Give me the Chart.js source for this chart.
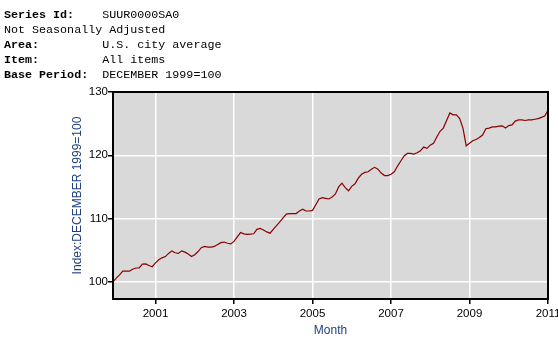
<!DOCTYPE html>
<html>
<head>
<meta charset="utf-8">
<title>SUUR0000SA0</title>
<script src="https://cdn.jsdelivr.net/npm/chart.js@4.4.0/dist/chart.umd.min.js"></script>
<style>
  html, body { margin: 0; padding: 0; background: #fff; }
  #wrap { position: relative; width: 558px; height: 338px; overflow: hidden; }
  #chart { position: absolute; left: 0; top: 0; }
  #info {
    position: absolute; left: 4px; top: 8px; margin: 0;
    font-family: "Courier New", "Liberation Mono", monospace;
    font-size: 11.7px; line-height: 15px; color: #000;
  }
</style>
</head>
<body>
<div id="wrap">
<canvas id="chart" width="558" height="338"></canvas>
<pre id="info"><b>Series Id:</b>    SUUR0000SA0
Not Seasonally Adjusted
<b>Area:</b>         U.S. city average
<b>Item:</b>         All items
<b>Base Period:</b>  DECEMBER 1999=100</pre>
</div>
<script>
// Monthly index values (Dec 1999 = 100)
const dec1999 = [100.0];
const y2000 = [100.6, 101.1, 101.7, 101.7, 101.7, 102.0, 102.2, 102.2, 102.8, 102.85, 102.6, 102.4];
const y2001 = [103.0, 103.5, 103.8, 104.0, 104.5, 104.9, 104.6, 104.5, 104.9, 104.7, 104.4, 104.0];
const y2002 = [104.3, 104.8, 105.4, 105.6, 105.5, 105.5, 105.6, 105.9, 106.2, 106.3, 106.1, 106.0];
const y2003 = [106.4, 107.1, 107.8, 107.6, 107.5, 107.55, 107.6, 108.3, 108.45, 108.2, 107.9, 107.7];
const y2004 = [108.3, 108.9, 109.5, 110.1, 110.7, 110.8, 110.8, 110.8, 111.2, 111.5, 111.2, 111.2];
const y2005 = [111.3, 112.2, 113.1, 113.3, 113.2, 113.1, 113.4, 113.9, 115.0, 115.6, 114.9, 114.4];
const y2006 = [115.1, 115.5, 116.4, 117.0, 117.3, 117.4, 117.8, 118.1, 117.8, 117.2, 116.8, 116.8];
const y2007 = [117.0, 117.4, 118.3, 119.1, 119.9, 120.3, 120.3, 120.2, 120.4, 120.7, 121.3, 121.1];
const y2008 = [121.6, 121.9, 122.9, 123.8, 124.3, 125.5, 126.7, 126.4, 126.4, 125.8, 124.3, 121.5];
const y2009 = [121.9, 122.3, 122.5, 122.8, 123.2, 124.2, 124.3, 124.5, 124.5, 124.6, 124.65, 124.3];
const y2010 = [124.7, 124.8, 125.4, 125.6, 125.6, 125.5, 125.6, 125.6, 125.7, 125.8, 126.0, 126.2];
const jan2011 = [127.1];

const monthNames = ['Jan', 'Feb', 'Mar', 'Apr', 'May', 'Jun', 'Jul', 'Aug', 'Sep', 'Oct', 'Nov', 'Dec'];
const xTickYears = ['2001', '2003', '2005', '2007', '2009', '2011'];
const yTickValues = [100, 110, 120, 130];

const cpiValues = [].concat(dec1999, y2000, y2001, y2002, y2003, y2004,
  y2005, y2006, y2007, y2008, y2009, y2010, jan2011);

// Month labels start at Dec 1999
const monthLabels = cpiValues.map((v, i) => {
  const m = 11 + i;
  return monthNames[m % 12] + ' ' + (1999 + Math.floor(m / 12));
});

const titleBlue = '#1f3f7f';

// Gray plot background and black frame around the plot
const plotFrame = {
  id: 'plotFrame',
  beforeDraw(chart) {
    const { ctx, chartArea: a } = chart;
    ctx.save();
    ctx.fillStyle = '#d9d9d9';
    ctx.fillRect(a.left, a.top, a.right - a.left, a.bottom - a.top);
    ctx.restore();
  },
  afterDraw(chart) {
    const { ctx, chartArea: a } = chart;
    ctx.save();
    ctx.strokeStyle = '#000';
    ctx.lineWidth = 2;
    ctx.strokeRect(a.left, a.top, a.right - a.left, a.bottom - a.top);
    ctx.restore();
  }
};

Chart.defaults.font.family = '"Liberation Sans", Arial, sans-serif';
Chart.defaults.font.size = 12;
Chart.defaults.color = '#000';

new Chart(document.getElementById('chart').getContext('2d'), {
  type: 'line',
  data: {
    labels: monthLabels,
    datasets: [{
      label: 'SUUR0000SA0',
      data: cpiValues,
      borderColor: '#8b0000',
      borderWidth: 1.2,
      pointRadius: 0,
      tension: 0,
      fill: false
    }]
  },
  options: {
    responsive: false,
    animation: false,
    devicePixelRatio: 1,
    layout: { padding: { top: 92, right: 10, bottom: 0, left: 0 } },
    plugins: {
      legend: { display: false },
      tooltip: { enabled: false }
    },
    scales: {
      x: {
        offset: false,
        grid: { color: '#fff', lineWidth: 1.5, tickColor: '#000', tickLength: 5, drawTicks: true },
        border: { display: false },
        ticks: {
          autoSkip: false,
          maxRotation: 0,
          padding: 3,
          color: '#000',
          font: { size: 11.5 },
          callback: function(value) {
            return this.getLabelForValue(value).slice(4);
          }
        },
        afterBuildTicks: (scale) => {
          scale.ticks = xTickYears.map(y => ({ value: monthLabels.indexOf('Jan ' + y) }));
        },
        afterFit: (scale) => {
          scale.height = 39;
          scale.paddingLeft = 0;
          scale.paddingRight = 0;
        },
        title: {
          display: true,
          text: 'Month',
          color: titleBlue,
          font: { size: 12 },
          padding: { top: 0, bottom: 0 }
        }
      },
      y: {
        min: 97.3,
        max: 130,
        grid: { color: '#fff', lineWidth: 1.5, tickColor: '#000', tickLength: 5, drawTicks: true },
        border: { display: false },
        ticks: { padding: 0, color: '#000', font: { size: 11.5 } },
        afterBuildTicks: (scale) => {
          scale.ticks = yTickValues.map(v => ({ value: v }));
        },
        afterFit: (scale) => {
          scale.width = 113;
          scale.paddingTop = 0;
          scale.paddingBottom = 0;
        },
        title: {
          display: true,
          text: 'Index:DECEMBER 1999=100',
          color: titleBlue,
          font: { size: 12 },
          padding: { top: 70, bottom: 0 }
        }
      }
    }
  },
  plugins: [plotFrame]
});
</script>
</body>
</html>
